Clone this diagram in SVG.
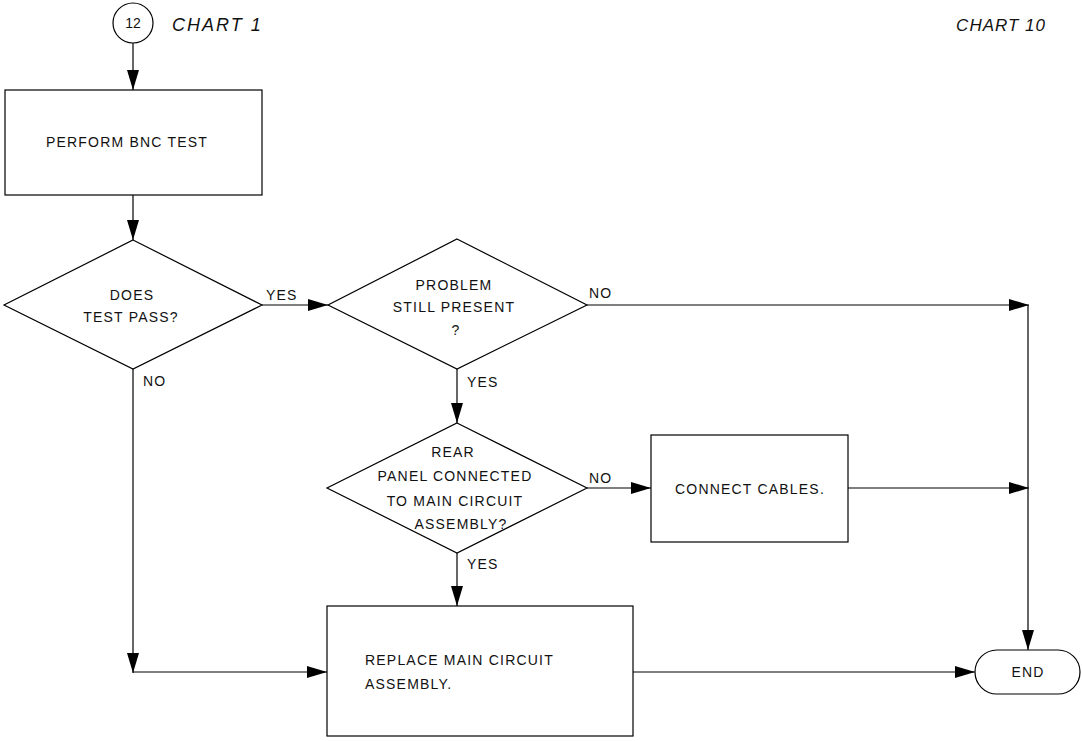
<svg xmlns="http://www.w3.org/2000/svg" width="1082" height="741" viewBox="0 0 1082 741">
<style>
.s{fill:none;stroke:#000;stroke-width:1.2}
.t{font-family:"Liberation Sans",Arial,sans-serif;font-size:14px;fill:#111;letter-spacing:1.2px}
.m{text-anchor:middle}
.h{font-family:"Liberation Sans",Arial,sans-serif;font-size:18px;font-style:italic;fill:#111;letter-spacing:2px}
</style>
<defs>
<marker id="a" markerUnits="userSpaceOnUse" markerWidth="20" markerHeight="12" refX="20" refY="6" orient="auto">
<path d="M0,0 L20,6 L0,12 Z" fill="#000"/>
</marker>
</defs>
<rect width="1082" height="741" fill="#fff"/>
<g id="start">
<circle class="s" cx="133" cy="23" r="20"/>
<text class="t m" x="133" y="28" style="letter-spacing:0">12</text>
<text class="h" x="172" y="31">CHART 1</text>
</g>
<text class="h" x="1046" y="31" text-anchor="end" style="font-size:17px;letter-spacing:1px">CHART 10</text>
<g id="n1">
<rect class="s" x="5" y="90" width="257" height="105"/>
<text class="t m" x="127" y="147">PERFORM BNC TEST</text>
</g>
<g id="d1">
<polygon class="s" points="133,240 262,305 133,369 4,305"/>
<text class="t m" x="132" y="300">DOES</text>
<text class="t m" x="131" y="322">TEST PASS?</text>
</g>
<g id="d2">
<polygon class="s" points="457,239 587,305 457,369 328,305"/>
<text class="t m" x="454" y="290">PROBLEM</text>
<text class="t m" x="454" y="312">STILL PRESENT</text>
<text class="t m" x="456" y="335">?</text>
</g>
<g id="d3">
<polygon class="s" points="457,423 587,488 457,553 327,488"/>
<text class="t m" x="453" y="457">REAR</text>
<text class="t m" x="455" y="481">PANEL CONNECTED</text>
<text class="t m" x="455" y="506">TO MAIN CIRCUIT</text>
<text class="t m" x="461" y="529">ASSEMBLY?</text>
</g>
<g id="n2">
<rect class="s" x="651" y="435" width="197" height="107"/>
<text class="t" x="675" y="494">CONNECT CABLES.</text>
</g>
<g id="n3">
<rect class="s" x="327" y="606" width="306" height="130"/>
<text class="t" x="365" y="665">REPLACE MAIN CIRCUIT</text>
<text class="t" x="365" y="689">ASSEMBLY.</text>
</g>
<g id="end">
<rect class="s" x="975" y="650" width="105" height="44" rx="22" ry="22"/>
<text class="t m" x="1028" y="677">END</text>
</g>
<g id="connectors">
<line class="s" x1="133" y1="43" x2="133" y2="90" marker-end="url(#a)"/>
<line class="s" x1="133" y1="195" x2="133" y2="240" marker-end="url(#a)"/>
<line class="s" x1="262" y1="305" x2="328" y2="305" marker-end="url(#a)"/>
<line class="s" x1="587" y1="305" x2="1029" y2="305" marker-end="url(#a)"/>
<line class="s" x1="457" y1="369" x2="457" y2="423" marker-end="url(#a)"/>
<line class="s" x1="587" y1="488" x2="651" y2="488" marker-end="url(#a)"/>
<line class="s" x1="848" y1="488" x2="1029" y2="488" marker-end="url(#a)"/>
<line class="s" x1="457" y1="553" x2="457" y2="606" marker-end="url(#a)"/>
<line class="s" x1="133" y1="369" x2="133" y2="673" marker-end="url(#a)"/>
<line class="s" x1="133" y1="672" x2="327" y2="672" marker-end="url(#a)"/>
<line class="s" x1="633" y1="672" x2="975" y2="672" marker-end="url(#a)"/>
<line class="s" x1="1028" y1="305" x2="1028" y2="650" marker-end="url(#a)"/>
<text class="t" x="266" y="300">YES</text>
<text class="t" x="143" y="386">NO</text>
<text class="t" x="589" y="298">NO</text>
<text class="t" x="467" y="387">YES</text>
<text class="t" x="589" y="483">NO</text>
<text class="t" x="467" y="569">YES</text>
</g>
</svg>
